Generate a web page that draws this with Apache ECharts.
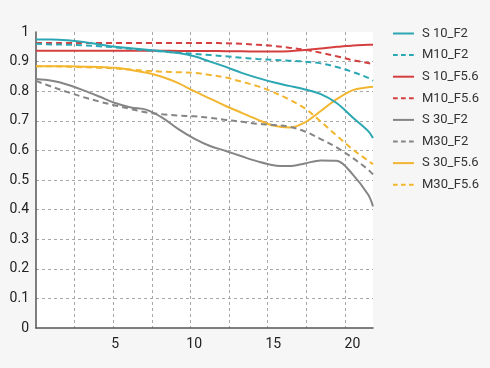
<!DOCTYPE html>
<html>
<head>
<meta charset="utf-8">
<script src="https://cdn.jsdelivr.net/npm/echarts@6/dist/echarts.min.js"></script>
<style>
html,body{margin:0;padding:0;background:#f6f6f6;}
#c{width:490px;height:368px;}
</style>
</head>
<body>
<div id="c"></div>
<script>
// image height (mm)
const xs = [0,1,2,3,4,5,6,7,8,9,10,11,12,13,14,15,16,17,18,19,20,21,21.3];
const seriesNames = ['S 10_F2','M10_F2','S 10_F5.6','M10_F5.6','S 30_F2','M30_F2','S 30_F5.6','M30_F5.6'];
const s10_f2   = [0.975,0.975,0.972,0.966,0.958,0.950,0.945,0.940,0.935,0.929,0.918,0.900,0.882,0.862,0.845,0.830,0.818,0.806,0.790,0.760,0.712,0.665,0.642];
const m10_f2   = [0.960,0.958,0.957,0.955,0.952,0.948,0.943,0.938,0.934,0.930,0.926,0.922,0.918,0.913,0.909,0.906,0.903,0.900,0.894,0.882,0.865,0.845,0.835];
const s10_f56  = [0.937,0.937,0.937,0.937,0.937,0.937,0.937,0.937,0.937,0.936,0.936,0.936,0.935,0.935,0.934,0.934,0.935,0.939,0.944,0.950,0.954,0.957,0.957];
const m10_f56  = [0.963,0.963,0.963,0.963,0.963,0.963,0.963,0.963,0.963,0.963,0.963,0.963,0.962,0.960,0.957,0.953,0.947,0.940,0.930,0.918,0.905,0.895,0.890];
const s30_f2   = [0.841,0.835,0.822,0.803,0.782,0.760,0.745,0.737,0.710,0.672,0.640,0.615,0.598,0.580,0.563,0.550,0.547,0.556,0.566,0.565,0.520,0.450,0.411];
const m30_f2   = [0.835,0.815,0.797,0.780,0.765,0.752,0.740,0.728,0.722,0.718,0.715,0.710,0.703,0.697,0.690,0.686,0.680,0.664,0.638,0.610,0.575,0.535,0.519];
const s30_f56  = [0.884,0.884,0.884,0.883,0.882,0.879,0.872,0.862,0.848,0.827,0.800,0.775,0.750,0.727,0.704,0.684,0.677,0.695,0.733,0.773,0.803,0.813,0.815];
const m30_f56  = [0.884,0.884,0.883,0.881,0.879,0.877,0.873,0.869,0.866,0.864,0.862,0.855,0.846,0.832,0.817,0.797,0.772,0.742,0.697,0.650,0.604,0.565,0.553];
const xTickLabels = [5,10,15,20];
const yTicks = [0,0.1,0.2,0.3,0.4,0.5,0.6,0.7,0.8,0.9,1];

const seriesValues = [s10_f2,m10_f2,s10_f56,m10_f56,s30_f2,m30_f2,s30_f56,m30_f56];
const colors = ['#2ba7b3','#2ba7b3','#d4403f','#d4403f','#858585','#858585','#f2b630','#f2b630'];
const dashed = [false,true,false,true,false,true,false,true];

const chart = echarts.init(document.getElementById('c'), null, {renderer:'canvas'});
const font = 'Roboto';
chart.setOption({
  backgroundColor:'#f6f6f6',
  animation:false,
  grid:{left:36, top:32, right:117, bottom:40, show:true, backgroundColor:'#ffffff', borderWidth:0},
  legend:{
    orient:'vertical', left:392, top:27, padding:0, itemWidth:21, itemHeight:14, itemGap:8.6,
    itemStyle:{opacity:0},
    data: seriesNames.map((name,i)=>({
      name,
      lineStyle:{width:2, type: dashed[i] ? [4.7,3.3] : 'solid'}
    })),
    textStyle:{fontFamily:font, fontSize:13, color:'#333', padding:[0,0,0,3]}
  },
  xAxis:[
    {type:'value', min:0, max:21.3, interval:5,
     axisLine:{show:true, lineStyle:{color:'#555', width:1.5}},
     axisTick:{show:false},
     axisLabel:{fontFamily:font, fontSize:14, color:'#222', margin:9,
       formatter:v => xTickLabels.indexOf(v) >= 0 ? String(v) : ''},
     splitLine:{show:false}},
    {type:'value', min:0, max:21.3, interval:2.44, position:'bottom',
     axisLine:{show:false}, axisTick:{show:false}, axisLabel:{show:false},
     splitLine:{show:true, showMinLine:false, showMaxLine:false, lineStyle:{color:'#a8a8a8', type:[3,3], width:1}}}
  ],
  yAxis:{type:'value', min:0, max:1, interval:0.1,
    axisLine:{show:true, lineStyle:{color:'#555', width:1.5}},
    axisTick:{show:false},
    axisLabel:{fontFamily:font, fontSize:14, color:'#222', margin:7,
      formatter:v => { const r = Math.round(v*10)/10; return yTicks.indexOf(r)>=0 ? String(r) : ''; }},
    splitLine:{show:true, showMinLine:false, showMaxLine:false, lineStyle:{color:'#a8a8a8', type:[3,3], width:1}}
  },
  series: seriesNames.map((name,i)=>({
    name, type:'line', xAxisIndex:0, smooth:0.35, symbol:'none',
    data: xs.map((x,j)=>[x, seriesValues[i][j]]),
    lineStyle:{color:colors[i], width:2, type: dashed[i] ? [6,4] : 'solid'},
    itemStyle:{color:colors[i]},
    z: 10 - i
  }))
});
</script>
</body>
</html>
